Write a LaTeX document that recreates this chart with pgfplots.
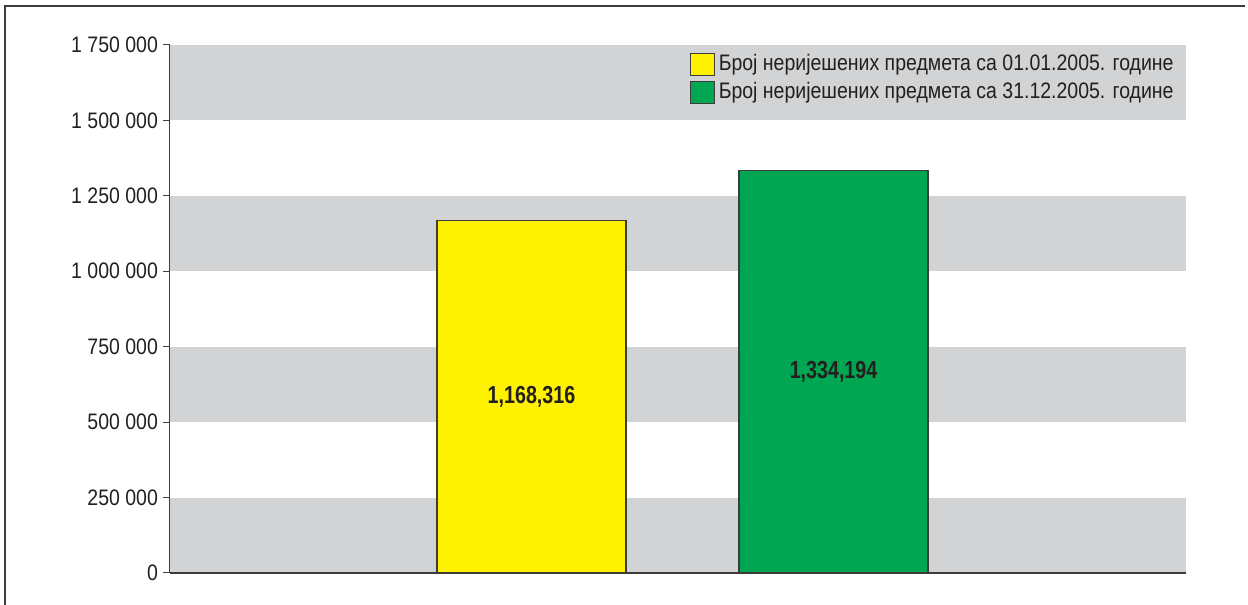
\documentclass[border=0pt]{standalone}
\usepackage{pgfplots}
\pgfplotsset{compat=1.18}
\usepackage{fontspec}
\setmainfont{Liberation Sans}[FakeStretch=0.87]
\newfontfamily\barfont{Liberation Sans}[FakeStretch=0.8]

\definecolor{band}{HTML}{D1D3D4}
\definecolor{barY}{HTML}{FFF200}
\definecolor{barG}{HTML}{00A651}
\definecolor{edge}{HTML}{3C3C3C}
\definecolor{txt}{HTML}{231F20}

\begin{document}
\begin{tikzpicture}
\useasboundingbox (-85pt,-16pt) rectangle (539pt,286.5pt);
\draw[line width=1pt, edge] (-82.5pt,-17pt) -- (-82.5pt,283.5pt) -- (537.5pt,283.5pt);
\begin{axis}[
  at={(0,0)}, anchor=south west,
  scale only axis, width=508pt, height=264pt,
  xmin=-0.197, xmax=3.167, ymin=0, ymax=1750000,
  axis x line*=bottom, axis y line*=left,
  x axis line style={line width=1pt, edge, -},
  y axis line style={line width=0.5pt, edge, -},
  xtick=\empty,
  ytick={0,250000,...,1750000},
  scaled y ticks=false,
  tick align=outside, major tick length=3.5pt,
  ytick style={line width=0.5pt, edge},
  /pgf/number format/fixed,
  /pgf/number format/1000 sep={\ },
  /pgf/number format/assume math mode=true,
  ticklabel style={font=\fontsize{11.2}{13}\selectfont, text=txt},
  yticklabel style={xshift=1pt},
  axis on top,
  legend style={draw=none, fill=none, at={(1,1)}, anchor=north east,
    xshift=-3pt, yshift=-1.5pt, font=\fontsize{11.2}{13}\selectfont, text=txt,
    row sep=0.5pt, inner sep=1pt},
  legend cell align=left,
  legend image code/.code={\draw[#1, draw=edge, line width=0.5pt] (0pt,-5.5pt) rectangle (12pt,5.5pt);},
]
\addplot[fill=band, draw=none, forget plot] coordinates {(-0.197,0) (3.167,0) (3.167,250000) (-0.197,250000)} -- cycle;
\addplot[fill=band, draw=none, forget plot] coordinates {(-0.197,500000) (3.167,500000) (3.167,750000) (-0.197,750000)} -- cycle;
\addplot[fill=band, draw=none, forget plot] coordinates {(-0.197,1000000) (3.167,1000000) (3.167,1250000) (-0.197,1250000)} -- cycle;
\addplot[fill=band, draw=none, forget plot] coordinates {(-0.197,1500000) (3.167,1500000) (3.167,1750000) (-0.197,1750000)} -- cycle;

\addplot[ybar, bar width=0.626, bar shift=0pt, fill=barY, draw=edge, line width=0.7pt]
  coordinates {(1,1168316)};
\addlegendentry{Број неријешених предмета са 01.01.2005. године}
\addplot[ybar, bar width=0.626, bar shift=0pt, fill=barG, draw=edge, line width=0.7pt]
  coordinates {(2,1334194)};
\addlegendentry{Број неријешених предмета са 31.12.2005. године}

\node[font=\barfont\bfseries\fontsize{12.3}{14}\selectfont, text=txt] at (axis cs:1,584158) {1,168,316};
\node[font=\barfont\bfseries\fontsize{12.3}{14}\selectfont, text=txt] at (axis cs:2,667097) {1,334,194};
\end{axis}
\end{tikzpicture}
\end{document}
